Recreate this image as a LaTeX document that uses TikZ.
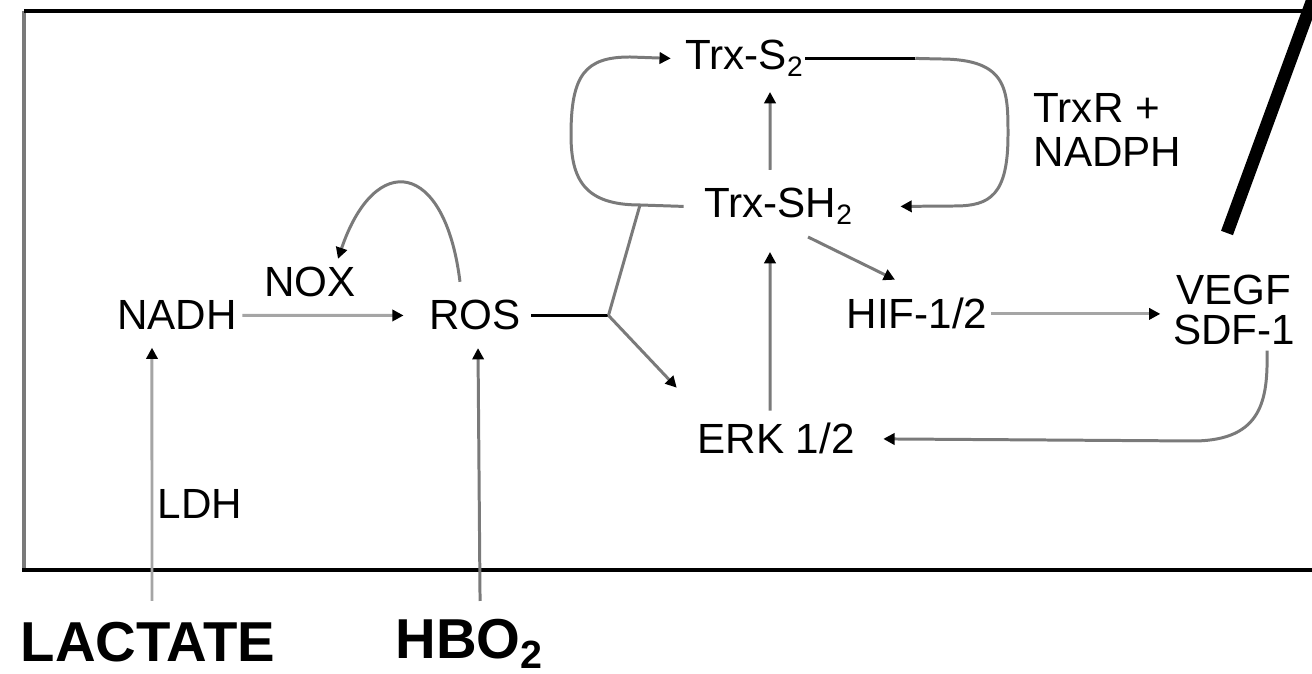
\documentclass[tikz,border=0pt]{standalone}
\usepackage{fontspec}
\setmainfont{Liberation Sans}
\definecolor{mGray}{HTML}{7A7A7A}
\definecolor{mLightGray}{HTML}{A5A5A5}
\usetikzlibrary{arrows.meta}

\begin{document}
\begin{tikzpicture}[x=0.01cm, y=-0.01cm,
  mol/.style={inner sep=0pt, font=\fontsize{12}{12.5}\selectfont},
  src/.style={inner sep=0pt, font=\fontsize{16}{18}\selectfont\bfseries},
  conn/.style={draw=mGray, line width=0.85pt, -{Triangle[length=3.2pt,width=3.2pt,color=black]}},
  link/.style={draw=mGray, line width=0.85pt},
  bond/.style={draw=black, line width=1pt}]
\useasboundingbox (0,0) rectangle (1312,674);
\begin{scope}
\clip (0,0) rectangle (1312,674);
\draw[mGray, line width=1.2pt] (24,11) -- (24,571);
\draw[line width=1.1pt] (24,11) -- (1340,11);
\draw[line width=1.2pt] (22,570) -- (1340,570);
\draw[line width=3.6pt] (1318,-15) -- (1227,233);
\end{scope}

\node[mol, anchor=base] (trxs2) at (745,70) {Trx-S\textsubscript{2}};
\node[mol, anchor=base] (trxsh2) at (779,218) {Trx-SH\textsubscript{2}};
\node[mol, anchor=north west, align=left] (trxr) at (1033,93) {TrxR +\\NADPH};
\node[mol, anchor=base] (nox) at (310,297) {NOX};
\node[mol, anchor=base] (nadh) at (177,330) {NADH};
\node[mol, anchor=base] (ros) at (475,330) {ROS};
\node[mol, anchor=base] (hif) at (917,329) {HIF-1/2};
\node[mol, anchor=north, align=center, font=\fontsize{12}{11.5}\selectfont] (vegf) at (1234,274) {VEGF\\SDF-1};
\node[mol, anchor=base] (erk) at (776,454) {ERK 1/2};
\node[mol, anchor=base] (ldh) at (200,519) {LDH};
\node[src, anchor=base] (lactate) at (148,662) {LACTATE};
\node[src, anchor=base west] (hbo2) at (395,659) {HBO\textsubscript{2}};

\coordinate (jn) at ([xshift=0.87cm]ros.east);
\coordinate (ox) at (640,205);
\coordinate (rt) at ([xshift=1.1cm]trxs2.east);

\draw[conn, draw=mLightGray] ([xshift=0.04cm,yshift=0.21cm]lactate.north) -- ([xshift=-0.25cm,yshift=-0.17cm]nadh.south);
\draw[conn] ([xshift=0.1cm,yshift=0.18cm]hbo2.north) -- ([xshift=0.03cm,yshift=-0.17cm]ros.south);
\draw[conn, draw=mLightGray] ([xshift=0.05cm]nadh.east) -- ([xshift=-0.25cm]ros.west);
\draw[conn] ([xshift=-0.15cm,yshift=0.18cm]ros.north) .. controls (445,160) and (375,150) .. ([xshift=0.28cm,yshift=0.08cm]nox.north);
\draw[bond] ([xshift=0.1cm]ros.east) -- (jn);
\draw[conn] (jn) -- ([xshift=-0.2cm,yshift=0.35cm]erk.north west);
\draw[link] (jn) -- (ox);
\draw[link] ([xshift=-0.2cm]trxsh2.west) -- (ox);
\draw[conn] (ox) .. controls (585,205) and (571,180) .. (571,135) .. controls (571,75) and (585,57) .. (630,57) -- ([xshift=-0.14cm]trxs2.west);
\draw[conn] ([xshift=-0.09cm,yshift=0.18cm]trxsh2.north) -- ([xshift=0.25cm,yshift=-0.22cm]trxs2.base);
\draw[bond] (trxs2.east) -- (rt);
\draw[conn] (rt) -- (940,59) .. controls (1008,59) and (1008,90) .. (1008,135) .. controls (1008,195) and (990,206) .. (955,206) -- ([xshift=0.46cm]trxsh2.east);
\draw[conn] ([xshift=0.29cm,yshift=-0.19cm]trxsh2.base) -- ([xshift=-0.22cm,yshift=0.18cm]hif.north);
\draw[conn] ([xshift=-0.06cm,yshift=0.12cm]erk.north) -- ([xshift=-0.09cm,yshift=-0.34cm]trxsh2.base);
\draw[conn, draw=mLightGray, shorten <=0.03cm, shorten >=0.12cm] (hif.east) -- (hif.east -| vegf.west);
\draw[conn] ([xshift=0.33cm,yshift=-0.05cm]vegf.south) .. controls (1268,400) and (1262,440) .. (1195,441) -- ([xshift=0.28cm]erk.east);
\end{tikzpicture}
\end{document}
